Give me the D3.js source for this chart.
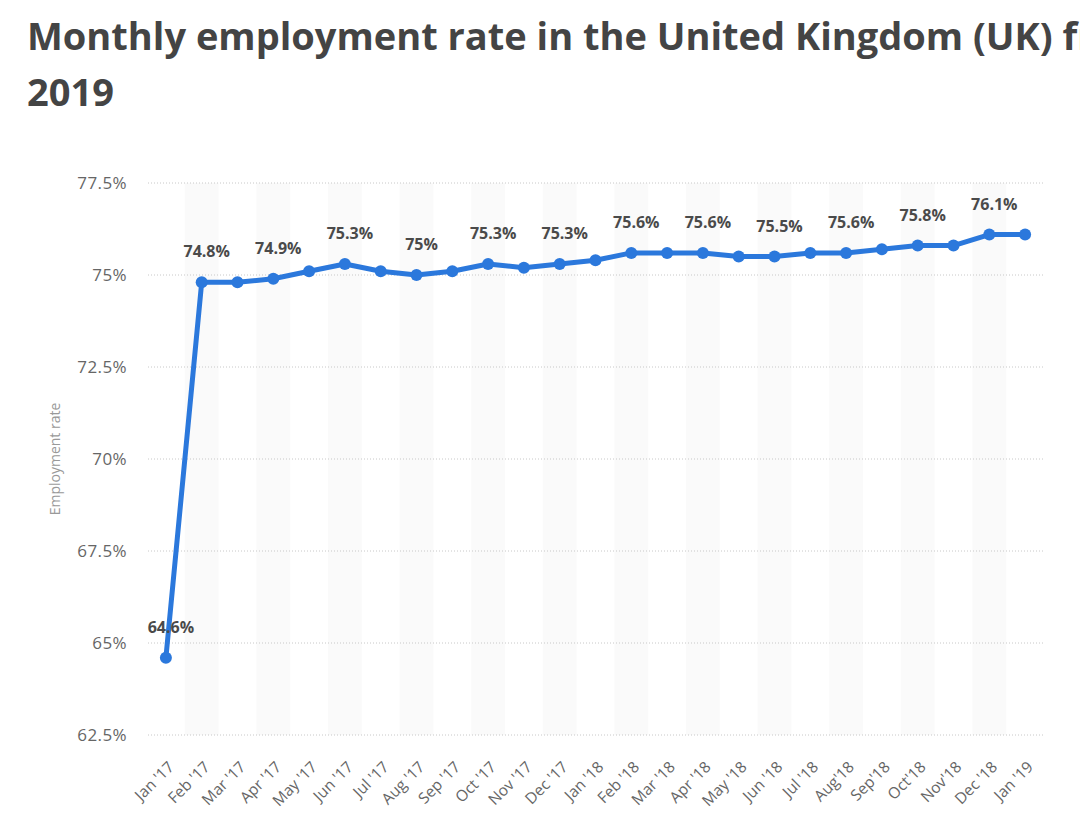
<!DOCTYPE html>
<html><head><meta charset="utf-8">
<script src="https://cdn.jsdelivr.net/npm/d3@7"></script>
<style>body{margin:0;background:#fff;} svg{display:block;}</style>
</head><body>
<svg id="c" width="1080" height="826"></svg>
<script>
const categories = ["Jan '17","Feb '17","Mar '17","Apr '17","May '17","Jun '17","Jul '17","Aug '17","Sep '17","Oct '17","Nov '17","Dec '17","Jan '18","Feb '18","Mar '18","Apr '18","May '18","Jun '18","Jul '18","Aug'18","Sep'18","Oct'18","Nov'18","Dec '18","Jan '19"];
const values = [64.6,74.8,74.8,74.9,75.1,75.3,75.1,75.0,75.1,75.3,75.2,75.3,75.4,75.6,75.6,75.6,75.5,75.5,75.6,75.6,75.7,75.8,75.8,76.1,76.1];
const labelledIdx = [0,1,3,5,7,9,11,13,15,17,19,21,23];
const yTicks = [62.5,65,67.5,70,72.5,75,77.5];
const titleLines = ["Monthly employment rate in the United Kingdom (UK) from January 2017 to January","2019"];
const yAxisTitle = "Employment rate";

const svg = d3.select("#c");
const font = "'Open Sans', sans-serif";
const L = 148, R = 1043, T = 183, B = 735;

const x = d3.scaleBand().domain(categories).range([L, R]).padding(0);
const y = d3.scaleLinear().domain([62.5, 77.5]).range([B, T]);

// title
svg.append("g").selectAll("text").data(titleLines).join("text")
  .attr("x", 27).attr("y", (d,i)=>50+i*56)
  .attr("font-family", font).attr("font-weight", 700).attr("font-size", 38)
  .attr("fill", "#444").text(d=>d);

// shaded bands
svg.append("g").selectAll("rect").data(categories.filter((d,i)=>i%2===1)).join("rect")
  .attr("x", d=>x(d)+1).attr("width", x.bandwidth()-2)
  .attr("y", T).attr("height", B-T).attr("fill", "#fafafa");

// gridlines
svg.append("g").selectAll("line").data(yTicks).join("line")
  .attr("x1", L).attr("x2", R).attr("y1", d=>y(d)).attr("y2", d=>y(d))
  .attr("stroke", "#c8c8c8").attr("stroke-width", 1).attr("stroke-dasharray", "1,2");

// y axis labels
const yAx = svg.append("g").attr("transform", `translate(${L},0)`)
  .call(d3.axisLeft(y).tickValues(yTicks).tickSize(0).tickPadding(21)
    .tickFormat(d => d3.format("~")(d) + "%"));
yAx.select(".domain").remove();
yAx.selectAll("text").attr("font-family", font).attr("font-size", 17)
  .attr("letter-spacing", 0.4).attr("fill", "#666");

svg.append("text").attr("transform", `translate(60,${(T+B)/2}) rotate(-90)`)
  .attr("text-anchor", "middle").attr("font-family", font).attr("font-size", 14)
  .attr("fill", "#999").text(yAxisTitle);

// x axis labels
const xAx = svg.append("g").attr("transform", `translate(0,${B})`)
  .call(d3.axisBottom(x).tickSize(0).tickPadding(0));
xAx.select(".domain").remove();
xAx.selectAll("text")
  .attr("font-family", font).attr("font-size", 15.5).attr("fill", "#666")
  .attr("text-anchor", "end").attr("dy", 0)
  .attr("transform", "translate(9,33) rotate(-45)");

// line
const cx = d => x(d) + x.bandwidth()/2;
svg.append("path").datum(values)
  .attr("d", d3.line().x((d,i)=>cx(categories[i])).y(d=>y(d)))
  .attr("fill", "none").attr("stroke", "#2b78dc").attr("stroke-width", 5)
  .attr("stroke-linejoin", "round");
svg.append("g").selectAll("circle").data(values).join("circle")
  .attr("cx", (d,i)=>cx(categories[i])).attr("cy", d=>y(d)).attr("r", 6)
  .attr("fill", "#2b78dc");

// data labels
svg.append("g").selectAll("text").data(labelledIdx).join("text")
  .attr("x", i=>cx(categories[i])+5).attr("y", i=>y(values[i])-25)
  .attr("text-anchor", "middle").attr("font-family", font).attr("font-weight", 700)
  .attr("font-size", 16).attr("fill", "#4a4a4a")
  .text(i => d3.format("~")(values[i]) + "%");
</script>
</body></html>
